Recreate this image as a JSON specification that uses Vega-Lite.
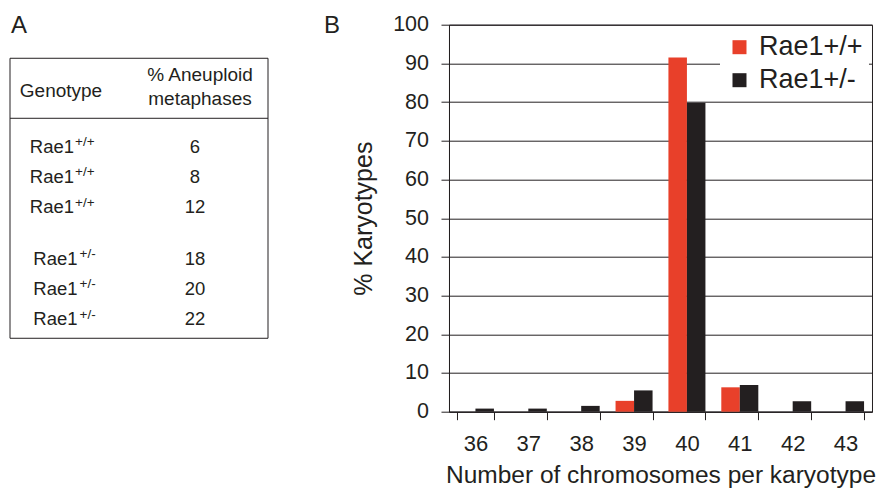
{
  "$schema": "https://vega.github.io/schema/vega-lite/v6.json",
  "background": "white",
  "padding": {"left": 9, "top": 12.7, "right": 0, "bottom": 0},
  "spacing": 9,
  "resolve": {"legend": {"color": "independent"}, "scale": {"color": "independent"}},
  "datasets": {
    "bars": [
      {"chromosomes": "36", "genotype": "Rae1+/+", "percent": 0},
      {"chromosomes": "36", "genotype": "Rae1+/-", "percent": 0.8},
      {"chromosomes": "37", "genotype": "Rae1+/+", "percent": 0},
      {"chromosomes": "37", "genotype": "Rae1+/-", "percent": 0.8},
      {"chromosomes": "38", "genotype": "Rae1+/+", "percent": 0},
      {"chromosomes": "38", "genotype": "Rae1+/-", "percent": 1.5},
      {"chromosomes": "39", "genotype": "Rae1+/+", "percent": 2.8},
      {"chromosomes": "39", "genotype": "Rae1+/-", "percent": 5.5},
      {"chromosomes": "40", "genotype": "Rae1+/+", "percent": 91.5},
      {"chromosomes": "40", "genotype": "Rae1+/-", "percent": 79.8},
      {"chromosomes": "41", "genotype": "Rae1+/+", "percent": 6.3},
      {"chromosomes": "41", "genotype": "Rae1+/-", "percent": 6.9},
      {"chromosomes": "42", "genotype": "Rae1+/+", "percent": 0},
      {"chromosomes": "42", "genotype": "Rae1+/-", "percent": 2.7},
      {"chromosomes": "43", "genotype": "Rae1+/+", "percent": 0},
      {"chromosomes": "43", "genotype": "Rae1+/-", "percent": 2.7}
    ],
    "table": [
      {"genotype": "Rae1", "allele": "+/+", "aneuploid": 6, "row": 1},
      {"genotype": "Rae1", "allele": "+/+", "aneuploid": 8, "row": 2},
      {"genotype": "Rae1", "allele": "+/+", "aneuploid": 12, "row": 3},
      {"genotype": "Rae1", "allele": "+/-", "aneuploid": 18, "row": 4.7},
      {"genotype": "Rae1", "allele": "+/-", "aneuploid": 20, "row": 5.7},
      {"genotype": "Rae1", "allele": "+/-", "aneuploid": 22, "row": 6.7}
    ],
    "headers": [
      {"column": "Genotype", "label": "Genotype"},
      {"column": "% Aneuploid metaphases", "label": "% Aneuploid"},
      {"column": "% Aneuploid metaphases", "label": "metaphases"}
    ],
    "panels": [
      {"panel": "A"},
      {"panel": "B"}
    ]
  },
  "config": {
    "font": "Liberation Sans",
    "view": {"stroke": "#231F20", "strokeWidth": 1},
    "text": {"fill": "#231F20"}
  },
  "hconcat": [
    {
      "width": 258,
      "height": 387,
      "view": {"stroke": null},
      "data": {"name": "table"},
      "layer": [
        {
          "data": {"values": [{"table": "A"}]},
          "mark": {"type": "rect", "filled": false, "color": "#231F20", "strokeWidth": 1},
          "encoding": {
            "y": {"datum": -2.116, "type": "quantitative", "scale": {"domain": [-3.224, 9.548], "reverse": true, "nice": false, "zero": false}, "axis": null},
            "y2": {"datum": 7.125}
          }
        },
        {
          "data": {"values": [{"table": "A"}]},
          "mark": {"type": "rule", "color": "#231F20", "strokeWidth": 1},
          "encoding": {
            "y": {"datum": -0.135, "type": "quantitative"}
          }
        },
        {
          "data": {"name": "headers"},
          "transform": [{"filter": "datum.label === 'Genotype'"}],
          "mark": {"type": "text", "fontSize": 19, "baseline": "alphabetic", "align": "center"},
          "encoding": {
            "x": {"field": "column", "type": "nominal", "scale": {"type": "point", "domain": ["Genotype", "% Aneuploid metaphases", "B"], "range": [51, 319], "padding": 0}, "axis": null},
            "y": {"datum": -0.838, "type": "quantitative"},
            "text": {"field": "label"}
          }
        },
        {
          "data": {"name": "headers"},
          "transform": [{"filter": "datum.label === '% Aneuploid'"}],
          "mark": {"type": "text", "fontSize": 19, "baseline": "alphabetic", "align": "center", "dx": 5},
          "encoding": {
            "x": {"field": "column", "type": "nominal"},
            "y": {"datum": -1.37, "type": "quantitative"},
            "text": {"field": "label"}
          }
        },
        {
          "data": {"name": "headers"},
          "transform": [{"filter": "datum.label === 'metaphases'"}],
          "mark": {"type": "text", "fontSize": 19, "baseline": "alphabetic", "align": "center", "dx": 5},
          "encoding": {
            "x": {"field": "column", "type": "nominal"},
            "y": {"datum": -0.59, "type": "quantitative"},
            "text": {"field": "label"}
          }
        },
        {
          "transform": [{"filter": "datum.allele === '+/+'"}],
          "mark": {"type": "text", "fontSize": 18.5, "baseline": "alphabetic", "align": "right", "dx": 13},
          "encoding": {
            "x": {"datum": "Genotype", "type": "nominal"},
            "y": {"field": "row", "type": "quantitative"},
            "text": {"field": "genotype"}
          }
        },
        {
          "transform": [{"filter": "datum.allele === '+/+'"}],
          "mark": {"type": "text", "fontSize": 13.5, "baseline": "alphabetic", "align": "left", "dx": 14, "dy": -6.7},
          "encoding": {
            "x": {"datum": "Genotype", "type": "nominal"},
            "y": {"field": "row", "type": "quantitative"},
            "text": {"field": "allele"}
          }
        },
        {
          "transform": [{"filter": "datum.allele === '+/-'"}],
          "mark": {"type": "text", "fontSize": 18.5, "baseline": "alphabetic", "align": "right", "dx": 16.5},
          "encoding": {
            "x": {"datum": "Genotype", "type": "nominal"},
            "y": {"field": "row", "type": "quantitative"},
            "text": {"field": "genotype"}
          }
        },
        {
          "transform": [{"filter": "datum.allele === '+/-'"}],
          "mark": {"type": "text", "fontSize": 13.5, "baseline": "alphabetic", "align": "left", "dx": 18.5, "dy": -6.7},
          "encoding": {
            "x": {"datum": "Genotype", "type": "nominal"},
            "y": {"field": "row", "type": "quantitative"},
            "text": {"field": "allele"}
          }
        },
        {
          "mark": {"type": "text", "fontSize": 18.5, "baseline": "alphabetic", "align": "center"},
          "encoding": {
            "x": {"datum": "% Aneuploid metaphases", "type": "nominal"},
            "y": {"field": "row", "type": "quantitative"},
            "text": {"field": "aneuploid", "type": "quantitative"}
          }
        },
        {
          "data": {"name": "panels"},
          "transform": [{"filter": "datum.panel === 'A'"}],
          "mark": {"type": "text", "fontSize": 24, "baseline": "alphabetic", "align": "left", "dx": -50},
          "encoding": {
            "x": {"datum": "Genotype", "type": "nominal"},
            "y": {"datum": -2.96, "type": "quantitative"},
            "text": {"field": "panel"}
          }
        },
        {
          "data": {"name": "panels"},
          "transform": [{"filter": "datum.panel === 'B'"}],
          "mark": {"type": "text", "fontSize": 24, "baseline": "alphabetic", "align": "left", "dx": -5},
          "encoding": {
            "x": {"datum": "B", "type": "nominal"},
            "y": {"datum": -2.96, "type": "quantitative"},
            "text": {"field": "panel"}
          }
        }
      ]
    },
    {
      "width": 423,
      "height": 387,
      "data": {"name": "bars"},
      "mark": {"type": "bar"},
      "encoding": {
        "x": {
          "field": "chromosomes",
          "type": "ordinal",
          "scale": {"paddingInner": 0.3, "paddingOuter": 0.15},
          "axis": {
            "title": "Number of chromosomes per karyotype",
            "labelAngle": 0,
            "tickBand": "extent",
            "tickSize": 8,
            "labelFontSize": 22,
            "labelPadding": 14,
            "labelColor": "#231F20",
            "titleFontSize": 24.5,
            "titleFontWeight": "normal",
            "titleColor": "#231F20",
            "titlePadding": 9,
            "domainColor": "#231F20",
            "tickColor": "#231F20"
          }
        },
        "xOffset": {"field": "genotype", "type": "nominal", "scale": {"domain": ["Rae1+/+", "Rae1+/-"]}},
        "y": {
          "field": "percent",
          "type": "quantitative",
          "scale": {"domain": [0, 100], "nice": false},
          "axis": {
            "title": "% Karyotypes",
            "values": [0, 10, 20, 30, 40, 50, 60, 70, 80, 90, 100],
            "grid": true,
            "gridColor": "#231F20",
            "gridOpacity": 1,
            "tickSize": 8,
            "labelFontSize": 21.5,
            "labelPadding": 12.5,
            "labelColor": "#231F20",
            "titleFontSize": 25,
            "titleFontWeight": "normal",
            "titleColor": "#231F20",
            "titlePadding": 16.3,
            "domainColor": "#231F20",
            "tickColor": "#231F20"
          }
        },
        "color": {
          "field": "genotype",
          "type": "nominal",
          "scale": {"domain": ["Rae1+/+", "Rae1+/-"], "range": ["#E8402A", "#231F20"]},
          "legend": {
            "title": null,
            "orient": "top-right",
            "offset": 3,
            "fillColor": "white",
            "padding": 6,
            "labelFontSize": 27,
            "labelColor": "#231F20",
            "labelOffset": 6,
            "symbolType": "square",
            "symbolSize": 196,
            "symbolStrokeWidth": 0,
            "rowPadding": 5
          }
        }
      }
    }
  ]
}
